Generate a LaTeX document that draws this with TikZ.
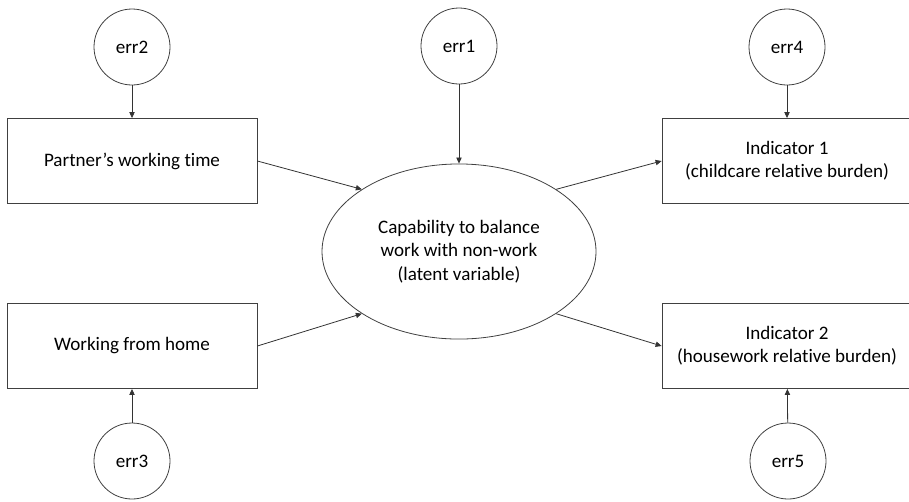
\documentclass[tikz,border=0pt]{standalone}
\usepackage{fontspec}
\setmainfont{Carlito}[Ligatures=NoCommon]
\usepackage{tikz}
\usetikzlibrary{arrows.meta,shapes.geometric}

\begin{document}
\begin{tikzpicture}[x=0.75pt,y=-0.75pt,font=\fontsize{14.3}{17.4}\selectfont,
  line width=0.6pt]
\tikzstyle{err}=[draw=black!75,circle,minimum size=57pt,inner sep=0pt]
\tikzstyle{obs}=[draw=black!75,rectangle,minimum width=187.5pt,minimum height=63.8pt,align=center,inner sep=0pt]
\tikzstyle{lat}=[draw=black!75,ellipse,minimum width=205.5pt,minimum height=131.3pt,align=center,inner sep=0pt]
\tikzstyle{path}=[draw=black!80,-{Triangle[length=4.5pt,width=4pt]}]
\useasboundingbox (0,0) rectangle (909,501);
%\fill[white] (0,0) rectangle (909,501);
\node[err] (err2) at (132,47) {err2};
\node[err] (err1) at (459,46) {err1};
\node[err] (err4) at (787,47) {err4};
\node[err] (err3) at (132,461) {err3};
\node[err] (err5) at (788,461) {err5};
\node[obs] (partner) at (132,161) {Partner’s working time};
\node[obs] (wfh) at (132,346) {Working from home};
\node[obs] (ind1) at (787,161) {Indicator 1\\(childcare relative burden)};
\node[obs] (ind2) at (787,346) {Indicator 2\\(housework relative burden)};
\node[lat] (cap) at (459,251.5) {Capability to balance\\work with non-work\\(latent variable)};

\draw[path] (err2) -- (partner);
\draw[path] (err3) -- (wfh);
\draw[path] (err1) -- (cap);
\draw[path] (err4) -- (ind1);
\draw[path] (err5) -- (ind2);
\draw[path] (partner.east) -- (cap.north west);
\draw[path] (wfh.east) -- (cap.south west);
\draw[path] (cap.north east) -- (ind1.west);
\draw[path] (cap.south east) -- (ind2.west);
\end{tikzpicture}
\end{document}
